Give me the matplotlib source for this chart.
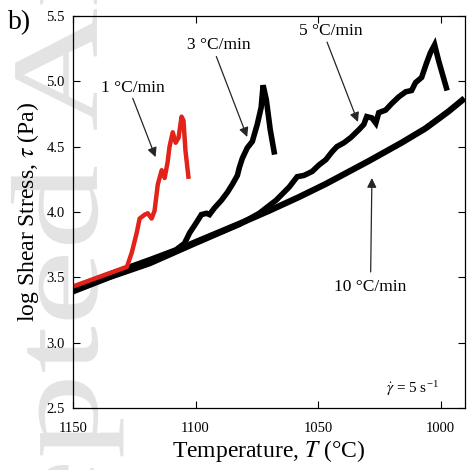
import numpy as np
import matplotlib
matplotlib.use("Agg")
import matplotlib.pyplot as plt
from matplotlib.textpath import TextPath
from matplotlib.patches import PathPatch
from matplotlib.transforms import Affine2D
from matplotlib.font_manager import FontProperties

plt.rcParams['font.family'] = 'Liberation Serif'
plt.rcParams['mathtext.fontset'] = 'stix'

# heating-rate curves: temperature (°C) vs log shear stress (Pa)
T_1 = [1150, 1128.0, 1126.0, 1124.0, 1122.8, 1120.7, 1119.5, 1117.9, 1116.7, 1115.4, 1113.8,
       1112.6, 1111.4, 1110.6, 1109.3, 1108.1, 1106.9, 1105.7, 1104.9, 1104.1, 1102.9]
logtau_1 = [3.43, 3.58, 3.69, 3.84, 3.95, 3.98, 3.99, 3.95, 4.01, 4.21, 4.32,
            4.26, 4.38, 4.50, 4.61, 4.53, 4.57, 4.73, 4.70, 4.47, 4.27]

T_3 = [1150, 1135, 1118.7, 1108, 1104.5, 1102.4, 1099.6, 1097.6, 1095.5, 1094.3, 1092.3, 1089.4,
       1087.0, 1085.0, 1082.9, 1082.1, 1080.9, 1078.9, 1076.8, 1074.8, 1073.2, 1072.4, 1071.1,
       1069.5, 1067.9]
logtau_3 = [3.42, 3.525, 3.635, 3.71, 3.76, 3.84, 3.92, 3.98, 3.99, 3.98, 4.03, 4.09,
            4.15, 4.21, 4.28, 4.34, 4.41, 4.49, 4.54, 4.67, 4.80, 4.97, 4.86,
            4.63, 4.46]

T_5 = [1150, 1135, 1118.7, 1101.2, 1082.1, 1074.0, 1067.1, 1061.8, 1058.5, 1055.7, 1052.4,
       1049.6, 1046.8, 1044.3, 1042.3, 1039.4, 1036.6, 1033.3, 1031.3, 1030.1, 1028.0, 1026.4,
       1025.2, 1022.4, 1019.9, 1017.1, 1014.2, 1011.8, 1010.2, 1007.7, 1005.7, 1004.1, 1002.4,
       1000.8, 997.6]
logtau_5 = [3.39, 3.50, 3.605, 3.75, 3.905, 3.99, 4.09, 4.19, 4.27, 4.28, 4.31,
            4.36, 4.40, 4.46, 4.50, 4.53, 4.57, 4.63, 4.67, 4.73, 4.72, 4.68,
            4.76, 4.78, 4.83, 4.88, 4.92, 4.93, 4.99, 5.03, 5.14, 5.22, 5.28,
            5.16, 4.95]

T_10 = [1150, 1135, 1118.7, 1101.2, 1082.1, 1069.9, 1057.7, 1046.8, 1029.3, 1015.9, 1006.1, 996.7, 990.2]
logtau_10 = [3.40, 3.505, 3.62, 3.76, 3.91, 4.01, 4.115, 4.215, 4.39, 4.53, 4.64, 4.77, 4.87]

x_ticks = [1150, 1100, 1050, 1000]
y_ticks = [2.5, 3.0, 3.5, 4.0, 4.5, 5.0, 5.5]

fig = plt.figure(figsize=(4.67, 4.70), dpi=100)

# faint journal stamp running up the left margin
fp = FontProperties(family='Liberation Serif')
stamp = TextPath((0, 0), "Accepted Article", size=100, prop=fp)
lead = TextPath((0, 0), "Acce", size=100, prop=fp).get_extents().xmax
sx, sy = 1.71, 1.24
tr = Affine2D().translate(-lead, 0).scale(sx, sy).rotate_deg(90).translate(97, 5)
fig.add_artist(PathPatch(stamp, transform=tr, facecolor='#e3e3e3', edgecolor='none', zorder=-5))

ax = fig.add_axes([73/467, 62/470, 392/467, 392/470])
ax.set_facecolor('none')

ax.plot(T_10, logtau_10, color='black', lw=4.5, solid_capstyle='butt')
ax.plot(T_5, logtau_5, color='black', lw=4.0, solid_joinstyle='miter')
ax.plot(T_3, logtau_3, color='black', lw=4.0, solid_joinstyle='miter')
ax.plot(T_1, logtau_1, color='#e32219', lw=3.2)

ax.set_xlim(1150, 990)
ax.set_ylim(2.5, 5.5)
ax.set_xticks(x_ticks)
ax.set_yticks(y_ticks)
ax.set_yticklabels([f"{v:.1f}" for v in y_ticks])
ax.tick_params(direction='in', top=True, right=True, length=5, width=0.8, labelsize=10.5)
ax.tick_params(axis='x', pad=10)
ax.tick_params(axis='y', pad=6)
for s in ax.spines.values():
    s.set_linewidth(0.9)

ax.set_xlabel(r"Temperature, $T$ (°C)", fontsize=17, labelpad=2)
ax.set_ylabel(r"log Shear Stress, $\tau$ (Pa)", fontsize=17, labelpad=4)

arrow = dict(arrowstyle='-|>', color='0.15', lw=0.9, mutation_scale=14, shrinkA=0, shrinkB=0)
ax.text(1125.6, 4.95, "1 °C/min", fontsize=12.5, ha='center', va='center')
ax.annotate("", xy=(1116.3, 4.42), xytext=(1125.6, 4.87), arrowprops=arrow)
ax.text(1090.6, 5.278, "3 °C/min", fontsize=12.5, ha='center', va='center')
ax.annotate("", xy=(1078.9, 4.574), xytext=(1091.5, 5.19), arrowprops=arrow)
ax.text(1044.7, 5.385, "5 °C/min", fontsize=12.5, ha='center', va='center')
ax.annotate("", xy=(1033.7, 4.689), xytext=(1046.3, 5.30), arrowprops=arrow)
ax.text(1028.9, 3.426, "10 °C/min", fontsize=12.5, ha='center', va='center')
ax.annotate("", xy=(1028.0, 4.26), xytext=(1028.5, 3.541), arrowprops=arrow)

ax.text(1011.4, 2.653, r"$\dot{\gamma}$ = 5 s$^{\mathregular{-1}}$", fontsize=11, ha='center', va='center')

fig.text(20/467, 1 - 23/470, "b)", fontsize=20, ha='center', va='center')

fig.savefig("out.png", dpi=100)
